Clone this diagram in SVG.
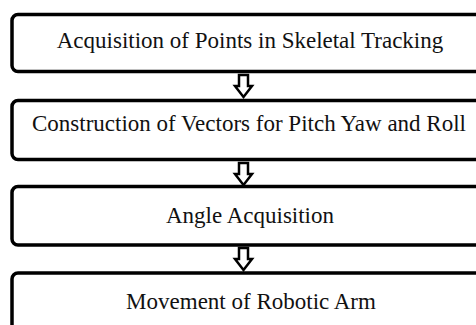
<svg xmlns="http://www.w3.org/2000/svg" width="476" height="325" viewBox="0 0 476 325">
  <style>
    .box { fill: #ffffff; stroke: #000000; stroke-width: 3.5; }
    .label { font-family: "Liberation Serif", "Times New Roman", serif; font-size: 23px; fill: #111111; text-anchor: middle; }
    .flow { fill: #ffffff; stroke: #000000; stroke-width: 2.5; stroke-linejoin: miter; }
  </style>
  <rect width="476" height="325" fill="#ffffff"/>

  <!-- process steps, each box runs off the right edge -->
  <g id="step-acquire-points">
    <rect class="box" x="12" y="14.5" width="480" height="57" rx="6"/>
    <text class="label" x="250" y="48">Acquisition of Points in Skeletal Tracking</text>
  </g>

  <g id="step-build-vectors">
    <rect class="box" x="12" y="100.5" width="480" height="59" rx="6"/>
    <text class="label" x="249" y="131">Construction of Vectors for Pitch Yaw and Roll</text>
  </g>

  <g id="step-angles">
    <rect class="box" x="12" y="186.5" width="480" height="58.5" rx="6"/>
    <text class="label" x="250" y="223">Angle Acquisition</text>
  </g>

  <g id="step-arm-motion">
    <rect class="box" x="12" y="273" width="480" height="80" rx="6"/>
    <text class="label" x="251" y="309">Movement of Robotic Arm</text>
  </g>

  <!-- hollow block arrows between steps -->
  <g id="connectors">
    <polygon class="flow" points="239,75 248,75 248,86 252,86 243.5,97 235,86 239,86"/>
    <polygon class="flow" points="239,163 248,163 248,174 252,174 243.5,185 235,174 239,174"/>
    <polygon class="flow" points="239,248 248,248 248,259 252,259 243.5,270 235,259 239,259"/>
  </g>
</svg>
